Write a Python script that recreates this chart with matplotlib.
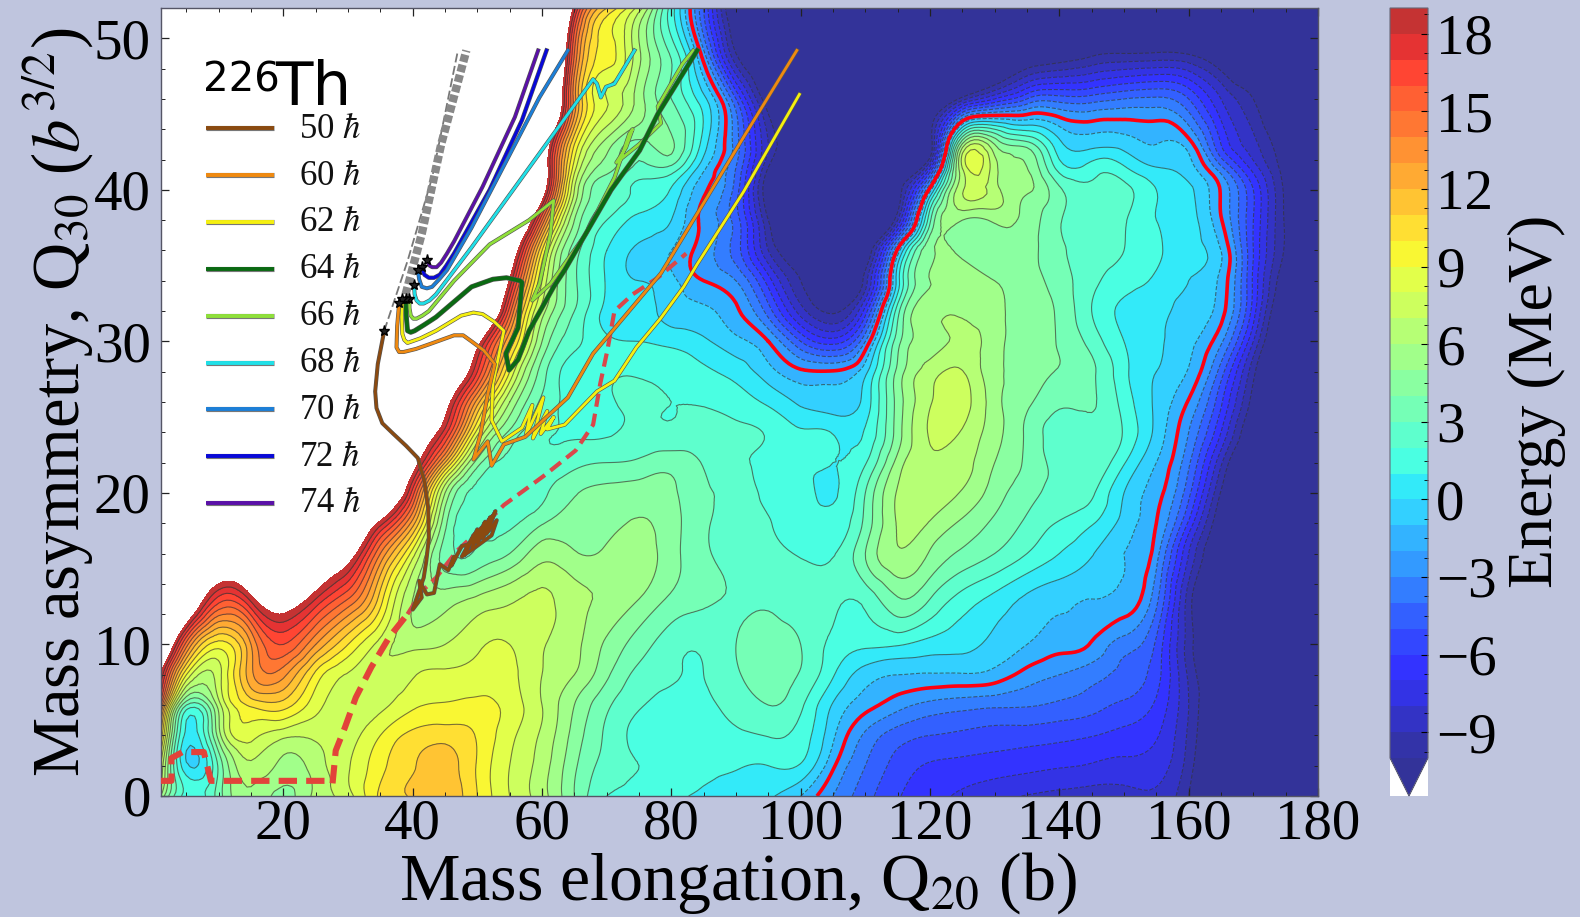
import numpy as np
import matplotlib
matplotlib.use("Agg")
import matplotlib.pyplot as plt
import matplotlib.tri as mtri
import matplotlib.patheffects as pe
from matplotlib.colors import ListedColormap
from matplotlib.patches import Rectangle

plt.rcParams['font.family'] = ['Liberation Serif', 'DejaVu Serif']
plt.rcParams['mathtext.fontset'] = 'stix'

q20 = [1,5,10,15,20,25,30,35,40,45,50,55,60,65,70,75,80,85,90,95,100,105,110,115,120,125,130,135,140,145,150,155,160,165,170,175,180]
q30 = [0,2,4,6,8,10,13,16,18,20,22,24,26,28,30,32,34,36,38,40,41.5,43,46,49,52]
e00 = [6,1.6,3.5,5.8,4.7,6.3,7.6,10.2,11.1,11.7,10,8,6.4,4,2,1.8,1.3,.8,.5,.1,-1,-3,-4.6,-5.9,-6.6,-7.2,-7.7,-8.05,-8.3,-8.5,-8.5,-8.2,-10,-12.5,-13,-13,-13]
e02 = [8,.2,3.2,6.8,5.7,6.5,7.9,9.7,10.9,11.4,9.9,8,6.5,4.2,2.6,2,1.8,1.3,1.1,1,.9,-1.8,-4,-5.4,-6.1,-6.3,-6.5,-6.7,-6.9,-7.1,-7.3,-7.5,-9.5,-12.3,-13,-13,-13]
e04 = [11,.7,5.5,8.4,7.3,7.2,7.6,9,10.3,10.6,9.9,8.3,6.8,4.6,2.8,1.7,1.5,1.5,1.8,2.05,1.6,-.8,-3.2,-4.5,-5,-5.2,-5.4,-5.5,-5.7,-5.95,-6.3,-6.9,-9.2,-12,-13,-13,-13]
e06 = [15,3,6.5,10.2,10.5,8.4,7.4,7.7,8.8,9.1,9.3,8.6,7,5,3.2,2.1,1.7,1.8,2.4,3,2.2,-.1,-1.6,-2.6,-3.3,-3.6,-3.8,-3.9,-4.2,-4.6,-5.2,-6.2,-9,-11.8,-13,-13,-13]
e08 = [19,9,7.6,12.7,13.3,9.7,7.9,7.1,7.9,8.2,8.4,8.3,7,6,4.2,2.7,2.1,2,2.85,3.45,2.9,1.1,-.5,-1,-1.1,-1.1,-1.4,-2.4,-3,-3.6,-4.3,-5.6,-9.2,-11.5,-13,-13,-13]
e10 = [25,14.5,9.5,13,16,13,10,7.6,6.7,7,7.8,8,7.1,6.3,4.8,3.5,2.4,2.2,3,3.5,3,1.7,1.2,1.1,.6,.3,-.3,-1,-1.6,-2.1,-3.5,-5.2,-9.5,-12,-13,-13,-13]
e13 = [32,24,16.6,18.4,21,18,15,10.5,6,5.5,6.2,6.8,7.2,6.4,5.8,5,3.8,3.2,2.9,2.9,2.5,2.2,2.3,3.9,3,1.6,.7,-.2,-.7,-1,-1.3,-3.7,-9.5,-12,-13,-13,-13]
e16 = [35,30,24,26,28,24,20.5,14,8.5,3.5,3.2,4,5.6,5.1,5.2,5.5,4.4,3.2,2.6,2.3,1.9,1.9,4,5.9,4.9,3.8,3,2,1,.1,-1,-2.6,-8,-11.5,-13,-13,-13]
e18 = [37.5,34,30,31,31,29,24.5,18.5,12.5,4.3,2.6,2.8,3.9,4.5,4.7,5.1,4.4,3.2,2.5,2.05,1.5,1.3,3.3,6.1,5.9,4.8,3.8,2.8,1.9,1.1,-.4,-2,-6.2,-11,-13,-13,-13]
e20 = [40,38,35,35,34,33,30,24,16.5,6,2.8,2.5,2.8,3.9,4.3,4.5,4.2,3.2,2.6,1.75,1.3,.9,3,6.1,6.6,5.9,4.5,3.4,2.7,2.2,0,-1.6,-4.7,-10.1,-13,-13,-13]
e22 = [42,40,38,37,36,35,32,26.5,20.3,12,4.5,2.7,2.3,2.7,3,3.2,3.6,2.9,2.2,1.7,1.1,1,1.9,5.4,6.9,6.5,5,3.8,2.7,2.7,1.1,-1,-3.8,-8.8,-12.5,-13,-13]
e24 = [44,42,40,39,38,37,35,30,23,17.5,8.5,3.8,2.2,1.9,1.9,2.2,2.2,2.4,2.2,1.9,1.1,.95,1.1,4.5,7.1,6.9,5.4,3.8,2.6,2.9,1.9,-.3,-3,-7,-11.5,-13,-13]
e26 = [45,43.5,42,41,40,39,37.5,33,26.5,20.2,12.5,6,2.8,1.7,1.9,2.1,2,1.9,1.5,.8,-.2,-.6,.4,4.4,6.9,7.4,5.4,4.2,3.2,3.1,1.6,-.2,-2.1,-5.8,-10.5,-13,-13]
e28 = [46,45,44,43,42,41,40,36,30,24,17,9,3.5,1.6,1.8,1.9,1.7,1.2,.6,-.6,-1.8,-1.9,-.3,4.3,6.5,7.05,5.3,4.6,3.9,3.2,1.3,0,-1.1,-4.5,-9.7,-13,-13]
e30 = [47,46,45,44,43.5,42.5,41.5,38,33,28,20,12,5,2.3,1.2,1,.7,.2,-.7,-2,-5,-6.5,-3,3.6,5.6,6.3,5.4,4.6,3.9,2.6,1,.2,-.7,-2.8,-8,-12.5,-13]
e32 = [48,47,46,45,45,44,43,40,36,31,26,15.5,6.5,3,.7,.3,-.4,-.8,-1.8,-4.5,-8.5,-10.2,-6.5,2.6,5.8,5.9,5.3,4.6,3.8,2,.8,.3,-.3,-1.6,-6.5,-12,-13]
e34 = [50,49,48,47.5,47,46,45,42.5,38.5,33.5,28,18.8,8,3.2,.9,0,-.7,-2,-3,-6.5,-10,-11.5,-9.5,.5,5,5.3,5,4.5,3.5,2.3,1.4,.8,0,-1.3,-6.2,-11,-13]
e36 = [52,51,50,50,49,48,47,45,41,36,30,22,10,3.5,1,-.2,-1,-2.5,-4.5,-9,-11,-12.5,-11.5,-1.7,4.8,4.8,4.6,4.4,3.2,2.6,2,1.2,.4,-1,-6,-10.2,-13]
e38 = [53,52,51,51,50,49,48,46,44,40,34,27,15,5,2,.7,0,-2.3,-4.5,-10,-12.5,-13,-13,-9,2.8,5,5.2,4.6,3.1,2.6,2.1,1,.4,-1.9,-6,-10.2,-13]
e40 = [54,53,52,52,51,50,49,48,46,43,38,32,21,7,3.2,1.7,.9,-1.8,-4.5,-11,-13,-13,-13,-10.8,-1.5,6.9,6.4,5.2,3.2,2.3,2.3,1,.2,-2.1,-6,-10.3,-13]
e415 = [54.5,54,53,53,52,51,50,49,47.5,45,41,35,22,8.5,4.5,2.8,2.8,-.7,-4,-10,-12.5,-13,-13,-12,-7.5,7.1,6.35,5,1.5,1.4,1.1,0,-.6,-3.8,-7.5,-10.6,-13]
e43 = [55,55,54,54,53,52,51,50,49,47,44,38,23,10,5.5,3.6,4.2,.5,-3.5,-9,-11.5,-13,-13,-13,-11,5.2,5,3.5,.3,-.3,-.4,-1,-1.5,-6,-8.7,-11,-13]
e46 = [58,57,56,56,55,54,54,53,52,50,47,42,30,13.5,8,5.5,3,.3,-5,-11,-13,-13,-13,-13,-13,-9.5,-7,-5,-4.5,-4.5,-4,-3.8,-5,-8,-10,-12.5,-13]
e49 = [60,60,59,58,58,57,56,55,54,52,50,46,34,15,9.5,6.2,2.8,-2.7,-10,-12.5,-13,-13,-13,-13,-13,-13,-12.5,-11.5,-11,-10.3,-10,-9.9,-10.1,-11.5,-13,-13,-13]
e52 = [62,62,61,60,60,59,58,57,56,54,52,48,38,18.5,11,7.5,1.5,-5,-12,-13,-13,-13,-13,-13,-13,-13,-13,-13,-13,-13,-13,-13,-13,-13,-13,-13,-13]

levels = list(range(-10, 20))
line_levels = list(range(-10, 19))
barrier_level = [-2]
cbar_ticks = [-9,-6,-3,0,3,6,9,12,15,18]

t74 = ([42.2,42.6,43,43.7,44.4,45.3,46.4,50.8,55.8,59.4],[35.4,35,34.9,34.9,35.2,35.8,36.6,40.2,44.8,49.2])
t72 = ([41.4,41.8,42.5,43.3,44.2,45.2,46.4,51.9,56.9,60.7],[34.9,34.4,34.2,34.2,34.4,35,35.8,40,44.6,49.2])
t70 = ([40.8,41,41.4,42.2,43,44.1,45.3,49.1,54.6,59.6,64],[34.7,34.1,33.6,33.5,33.6,34.1,34.7,37.5,42,46.1,49.2])
t68 = ([40.2,40.3,40.6,41.1,41.7,42.6,43.6,49.1,61.8,67.9,68.5,69.1,69.9,71.2,74.3],[33.7,33.1,32.7,32.5,32.5,32.7,33.1,36.2,43.7,47.3,47,46.1,46.8,47,49.2])
t66 = ([39.5,39.5,39.7,40.1,40.6,41.5,42.5,46.4,51.9,58,61.8,61.3,59.6,58.5,61.3,66.8,71.2,73.5,74,73,71.5,75,78.4,77.9,81.7,83.4],[32.8,32.2,31.7,31.5,31.5,31.7,32,34,36.4,38,39.3,37.1,33.8,32.7,33.8,37.1,40.8,43.7,44,42.8,41.8,43,44.4,45.5,48.3,49.2])
t64 = ([38.9,39,39.2,39.7,40.3,41.8,43.6,49.1,52.4,54.5,56.6,56.9,56.3,54.4,54.9,56.3,58,61.8,63.5,70.7,75.1,77.9,84],[32.8,31.7,30.7,30.6,30.7,31.1,31.6,33.6,34.1,34.2,34,33.9,30.9,29.2,28.1,28.8,30.7,33.6,34.7,40,42.6,45,49.2])
t62 = ([38.4,38.3,38.4,38.7,39.2,41.2,43.6,47.5,49.4,50.8,52.6,54.1,52.4,52.2,53.8,56.9,58.5,57.5,60.2,58.6,60.8,59.8,61.8,60.8,63.5,68.5,71.2,74.6,78.3,81.9,84,91.2,99.8],[32.8,31.6,30.5,30.1,29.9,30.2,30.7,31.7,31.9,31.8,31.3,30.7,27.2,24.8,23.4,24.3,25.8,23.8,26.3,23.6,25.4,23.9,25,24.2,24.5,26.7,27.4,29.6,31.5,33.6,35.1,39.9,46.3])
t60 = ([37.9,37.6,37.5,37.9,38.6,40.5,42.5,46.4,47.8,49.1,51,52.7,51.6,50.5,49.4,51.6,52.2,54.1,57.4,64,67.9,70.7,78.4,81.4,91.2,99.4],[32.5,31,29.6,29.3,29.3,29.5,29.8,30.4,30.4,30,29.4,28.5,26.5,23.9,22.2,23.4,21.8,23.2,23.7,26.3,29.2,30.6,34.5,36.6,43.5,49.2])
t50 = ([35.6,34.6,34.2,34.4,35.3,37,39,40.8,41.8,42.4,42.5,42.1,41.7,40,41.4,41,42.2,43.3,44.2,45.5,46.4,46,47.6,48.6,48,50,49.2,51.2,50,52,50.8,52.8,51.4,53,52.2,50.6,49,47.6,49.4,51,52.4],[30.7,28.5,26.7,25.6,24.6,23.9,23.1,22.3,20.8,19,17,15.5,14.4,12.3,13.1,14.2,13.3,13.4,15.3,14.9,15.8,15.2,16.5,16.6,15.9,17.6,16.4,18.1,16.7,18.4,17,18.8,17.3,18.2,17.2,16.7,16.2,15.8,17.2,17.8,18.5])
traj_colors = {'50':'#8b4a10','60':'#f08a10','62':'#f5f010','64':'#0a6a12','66':'#8fe03a','68':'#20e0e8','70':'#1c7fd8','72':'#0808d8','74':'#5a10a8'}
traj_lw = {'50':2.0,'60':2.0,'62':2.0,'64':2.7,'66':2.0,'68':2.0,'70':2.0,'72':2.2,'74':2.0}
traj = {'74':t74,'72':t72,'70':t70,'68':t68,'66':t66,'64':t64,'62':t62,'60':t60,'50':t50}
path_low_x = [1,2.7,2.7,4.4,7.7,8.8,26.5,27.6,28.1,29.5,31.2,33.6,36.4,39.2]
path_low_y = [1,1,2.5,2.9,2.9,1,1,.8,3,4.5,6.5,8.5,10.5,12]
path_up_x = [39.2,41.4,43.6,46.9,50.2,54.1,60.2,65.2,67.9,69,70.1,71.2,74,77.9,82.3]
path_up_y = [12,13.5,14.4,16.2,17.5,19.2,21.1,22.8,24.5,27.2,29.4,32,33.1,34.2,35.8]
sc_thin = ([35.6,39.2,43,46.9],[30.7,35.3,40.8,49])
sc_thick = ([38.9,41.4,44.4,48.3],[33.1,37.1,43,49.2])
legend_rows = ['50','60','62','64','66','68','70','72','74']

W, H = 1580, 917
bg = '#bfc5de'
fig = plt.figure(figsize=(W/100, H/100), dpi=100, facecolor=bg)
ax = fig.add_axes([160.5/W, 1-796/H, (1318-160.5)/W, (796-8)/H], facecolor='white')

X, Y = np.meshgrid(q20, q30)
Z = np.array([e00,e02,e04,e06,e08,e10,e13,e16,e18,e20,e22,e24,e26,e28,e30,e32,e34,e36,e38,e40,e415,e43,e46,e49,e52], float)
tri = mtri.Triangulation(X.ravel(), Y.ravel())
interp = mtri.CubicTriInterpolator(tri, Z.ravel(), kind='min_E')
rtri, rz = mtri.UniformTriRefiner(tri).refine_field(Z.ravel(), triinterpolator=interp, subdiv=3)

jet = plt.get_cmap('jet')(np.linspace(0, 1, 256))[:, :3]*0.8 + 0.2
cmap = ListedColormap(jet)
cmap.set_under(cmap(0))
cs = ax.tricontourf(rtri, rz, levels=levels, cmap=cmap, vmin=-10, vmax=20, extend='min')
ax.tricontour(rtri, rz, levels=line_levels, colors='#333333', linewidths=0.8, alpha=0.65)
ax.tricontour(rtri, rz, levels=barrier_level, colors='#ff0010', linewidths=2.6, linestyles='solid')

ax.plot(path_low_x, path_low_y, color='#e2433a', lw=4.4, dashes=(3.0, 1.5), zorder=5)
ax.plot(path_up_x, path_up_y, color='#d9474a', lw=3.0, dashes=(3.2, 1.7), zorder=5)
ax.plot(*sc_thin, color='#777777', lw=1.3, ls=(0,(5,2)), zorder=5)
ax.plot(*sc_thick, color='#888888', lw=6, ls=(0,(0.9,0.35)), zorder=5)
for k, (tx, ty) in traj.items():
    ax.plot(tx, ty, color=traj_colors[k], lw=traj_lw[k], zorder=6, solid_joinstyle='round',
            path_effects=[pe.Stroke(linewidth=traj_lw[k]+0.9, foreground='#555555'), pe.Normal()])
    ax.plot(tx[0], ty[0], marker='*', ms=8, color='#222222', mec='k', zorder=7)

for i, k in enumerate(legend_rows):
    yy = 44.05 - 3.09*i
    ax.plot([8.1, 18.6], [yy, yy], color=traj_colors[k], lw=2.8, zorder=8, solid_capstyle='butt',
            path_effects=[pe.Stroke(linewidth=3.7, foreground='#777777'), pe.Normal()])
    ax.text(22.4, yy-0.05, k + r' $\hbar$', fontsize=25, va='center', ha='left', zorder=8, color='#111111')
ax.text(7.5, 46.5, '226', fontsize=29, family='DejaVu Sans', va='baseline', ha='left', zorder=8)
ax.text(18.7, 45.6, 'Th', fontsize=44, family='DejaVu Sans', va='baseline', ha='left', zorder=8)

ax.set_xlim(1, 180); ax.set_ylim(0, 52)
ax.set_xticks(range(20, 181, 20)); ax.set_yticks(range(0, 51, 10))
ax.set_xticks(range(5, 181, 5), minor=True); ax.set_yticks(range(0, 53, 2), minor=True)
ax.tick_params(which='both', direction='in', top=True, right=True, color='#222222')
ax.tick_params(which='major', length=6, width=0.9, labelsize=41)
ax.tick_params(axis='x', which='major', pad=2)
ax.tick_params(axis='y', which='major', pad=7)
ax.tick_params(which='minor', length=3, width=0.7)
for s in ax.spines.values():
    s.set_color('#555566'); s.set_linewidth(1)

fig.text(738/W, 1-883/H, r'Mass elongation, Q$_{20}$ (b)', fontsize=49, ha='center', va='center')
fig.text(58/W, 1-402/H, r'Mass asymmetry, Q$_{30}$ ($b^{3/2}$)', fontsize=48, rotation=90, ha='center', va='center')

fig.add_artist(Rectangle((1390/W, 1-796/H), 38/W, 38/H, transform=fig.transFigure, facecolor='white', edgecolor='none', zorder=-1))
cax = fig.add_axes([1390/W, 1-796/H, 38/W, 788/H])
cb = fig.colorbar(cs, cax=cax, extend='min', extendfrac=0.0507, ticks=cbar_ticks, drawedges=False)
cb.ax.tick_params(which='major', labelsize=41, length=5, width=0.8, direction='in', pad=6)
cb.ax.set_yticks(np.arange(-9.75, 19, 0.75), minor=True)
cb.ax.tick_params(which='minor', length=3, width=0.6, direction='in')
cb.outline.set_edgecolor('#667')
fig.text(1537/W, 1-401/H, 'Energy (MeV)', fontsize=46, rotation=90, ha='center', va='center')

fig.savefig('out.png', dpi=100, facecolor=bg)
